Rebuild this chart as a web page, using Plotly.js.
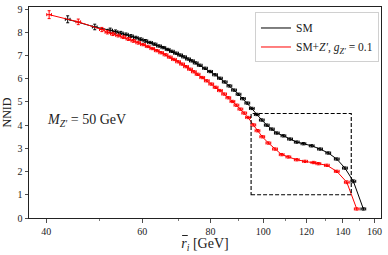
<!DOCTYPE html>
<html>
<head>
<meta charset="utf-8">
<script src="https://cdn.plot.ly/plotly-3.0.1.min.js"></script>
<style>html,body{margin:0;padding:0;background:#fff;}#chart{width:388px;height:255px;}</style>
</head>
<body>
<div id="chart"></div>
<script>
// SM (black)
var smX = [43.8, 49.1, 52.4, 53.6, 54.8, 56.0, 57.2, 58.4, 59.6, 60.8, 62.0, 63.2, 64.4, 65.6, 66.8, 68.0, 69.2, 70.4, 71.6, 72.8, 74.0, 75.2, 76.5, 78.2, 79.9, 81.6, 83.3, 85.0, 86.7, 88.4, 90.1, 91.8, 93.5, 95.3, 97.3, 99.4, 101.5, 103.7, 105.9, 108.9, 112.0, 115.2, 118.5, 122.7, 127.1, 131.6, 136.4, 141.2, 146.3, 152.6];
var smY = [8.56, 8.23, 8.09, 8.03, 7.97, 7.91, 7.84, 7.77, 7.70, 7.63, 7.56, 7.49, 7.41, 7.34, 7.26, 7.18, 7.10, 7.02, 6.94, 6.85, 6.77, 6.68, 6.58, 6.45, 6.31, 6.17, 6.02, 5.86, 5.69, 5.51, 5.33, 5.14, 4.95, 4.72, 4.46, 4.22, 4.00, 3.83, 3.66, 3.54, 3.40, 3.27, 3.20, 3.11, 2.97, 2.80, 2.54, 2.15, 1.58, 0.39];
var smYErr = [0.15, 0.12, 0.09, 0.07, 0.07, 0.06, 0.06, 0.06, 0.06, 0.06, 0.05, 0.05, 0.05, 0.05, 0.05, 0.05, 0.05, 0.05, 0.05, 0.05, 0.05, 0.05, 0.05, 0.05, 0.05, 0.05, 0.05, 0.05, 0.05, 0.05, 0.05, 0.05, 0.05, 0.05, 0.05, 0.05, 0.05, 0.05, 0.05, 0.05, 0.05, 0.05, 0.05, 0.05, 0.05, 0.05, 0.05, 0.05, 0.06, 0.05];
// SM + Z' (red)
var zpX = [40.5, 45.8, 50.6, 51.8, 53.0, 54.2, 55.4, 56.6, 57.8, 59.0, 60.2, 61.4, 62.6, 63.8, 65.0, 66.2, 67.4, 68.6, 69.8, 71.0, 72.2, 73.4, 74.6, 75.8, 77.3, 78.8, 80.3, 81.8, 83.3, 84.8, 86.3, 87.8, 89.3, 90.8, 92.3, 93.8, 95.9, 97.6, 99.6, 102.2, 105.1, 108.1, 111.2, 115.2, 119.3, 123.6, 126.2, 130.8, 136.4, 142.3, 148.4];
var zpY = [8.76, 8.45, 8.12, 8.00, 7.93, 7.86, 7.79, 7.71, 7.63, 7.55, 7.47, 7.39, 7.30, 7.21, 7.12, 7.03, 6.93, 6.83, 6.73, 6.63, 6.52, 6.41, 6.30, 6.19, 6.05, 5.91, 5.77, 5.63, 5.49, 5.34, 5.18, 5.02, 4.86, 4.69, 4.52, 4.33, 4.01, 3.76, 3.50, 3.23, 2.97, 2.73, 2.63, 2.51, 2.44, 2.39, 2.34, 2.27, 2.01, 1.54, 0.39];
var zpYErr = [0.17, 0.12, 0.09, 0.07, 0.07, 0.06, 0.06, 0.06, 0.06, 0.06, 0.05, 0.05, 0.05, 0.05, 0.05, 0.05, 0.05, 0.05, 0.05, 0.05, 0.05, 0.05, 0.05, 0.05, 0.05, 0.05, 0.05, 0.05, 0.05, 0.05, 0.05, 0.05, 0.05, 0.05, 0.05, 0.05, 0.05, 0.05, 0.05, 0.05, 0.05, 0.05, 0.05, 0.05, 0.05, 0.05, 0.05, 0.05, 0.05, 0.06, 0.05];
// zoom box (data units)
var boxX = [95, 145];
var boxY = [1, 4.5];
var xTicks = [40, 60, 80, 100, 120, 140, 160];
var xMinor = [50, 70, 90, 110, 130, 150];
var yTicks = [0, 1, 2, 3, 4, 5, 6, 7, 8, 9];

var serif = 'Liberation Serif, DejaVu Serif, serif';

var traces = [
  {x: smX, y: smY, type: 'scatter', mode: 'lines', name: 'SM',
   line: {color: '#000000', width: 1},
   error_x: {type: 'percent', value: 1.0, color: '#000000', thickness: 1, width: 1.5},
   error_y: {type: 'data', array: smYErr, color: '#000000', thickness: 1, width: 1.5}},
  {x: zpX, y: zpY, type: 'scatter', mode: 'lines', name: 'SM+<i>Z′</i>, <i>g<sub>Z′</sub></i> = 0.1',
   line: {color: '#ff0000', width: 1},
   error_x: {type: 'percent', value: 1.0, color: '#ff0000', thickness: 1, width: 1.5},
   error_y: {type: 'data', array: zpYErr, color: '#ff0000', thickness: 1, width: 1.5}}
];

var layout = {
  width: 388, height: 255,
  margin: {l: 29, r: 7, t: 7, b: 37, pad: 0},
  paper_bgcolor: '#ffffff', plot_bgcolor: '#ffffff',
  font: {family: serif, color: '#222', size: 10},
  showlegend: true,
  legend: {x: 0.642, y: 0.974, xanchor: 'left', yanchor: 'top',
    bgcolor: 'rgba(255,255,255,0.8)', bordercolor: '#d0d0d0', borderwidth: 1,
    font: {family: serif, size: 11.5, color: '#222'}, tracegroupgap: 0, itemwidth: 30},
  xaxis: {type: 'log', range: [Math.log10(37.2), Math.log10(164.4)],
    tickmode: 'array', tickvals: xTicks, ticktext: xTicks.map(String),
    ticks: 'outside', ticklen: 3.5, tickwidth: 0.8, tickcolor: '#222',
    minor: {tickmode: 'array', tickvals: xMinor, ticks: 'outside', ticklen: 2, tickwidth: 0.6, tickcolor: '#222', showgrid: false},
    showline: true, linecolor: '#222', linewidth: 1, mirror: true,
    showgrid: false, zeroline: false,
    tickfont: {family: serif, size: 10, color: '#222'},
    title: {text: '<i>r</i><sub><i>i</i></sub> [GeV]', font: {family: serif, size: 14, color: '#222'}, standoff: 2}},
  yaxis: {range: [0, 9.09], tickmode: 'array', tickvals: yTicks,
    ticks: 'outside', ticklen: 3.5, tickwidth: 0.8, tickcolor: '#222',
    showline: true, linecolor: '#222', linewidth: 1, mirror: true,
    showgrid: false, zeroline: false,
    tickfont: {family: serif, size: 10, color: '#222'},
    title: {text: 'NNID', font: {family: serif, size: 12, color: '#222'}, standoff: 4}},
  shapes: [
    {type: 'rect', xref: 'x', yref: 'y', x0: boxX[0], x1: boxX[1], y0: boxY[0], y1: boxY[1],
     line: {color: '#000', width: 1.1, dash: '4px,2px'}, fillcolor: 'rgba(0,0,0,0)'},
    // overline of r-bar in the x title
    {type: 'line', xref: 'paper', yref: 'paper', x0: 0.435, x1: 0.451, y0: -0.083, y1: -0.083,
     line: {color: '#222', width: 1}}
  ],
  annotations: [{xref: 'paper', yref: 'paper', x: 0.045, y: 0.462, xanchor: 'left', yanchor: 'middle',
    showarrow: false, text: '<i>M</i><sub><i>Z′</i></sub> = 50 GeV',
    font: {family: serif, size: 14, color: '#222'}}]
};

Plotly.newPlot('chart', traces, layout, {displayModeBar: false, staticPlot: true});
</script>
</body>
</html>
